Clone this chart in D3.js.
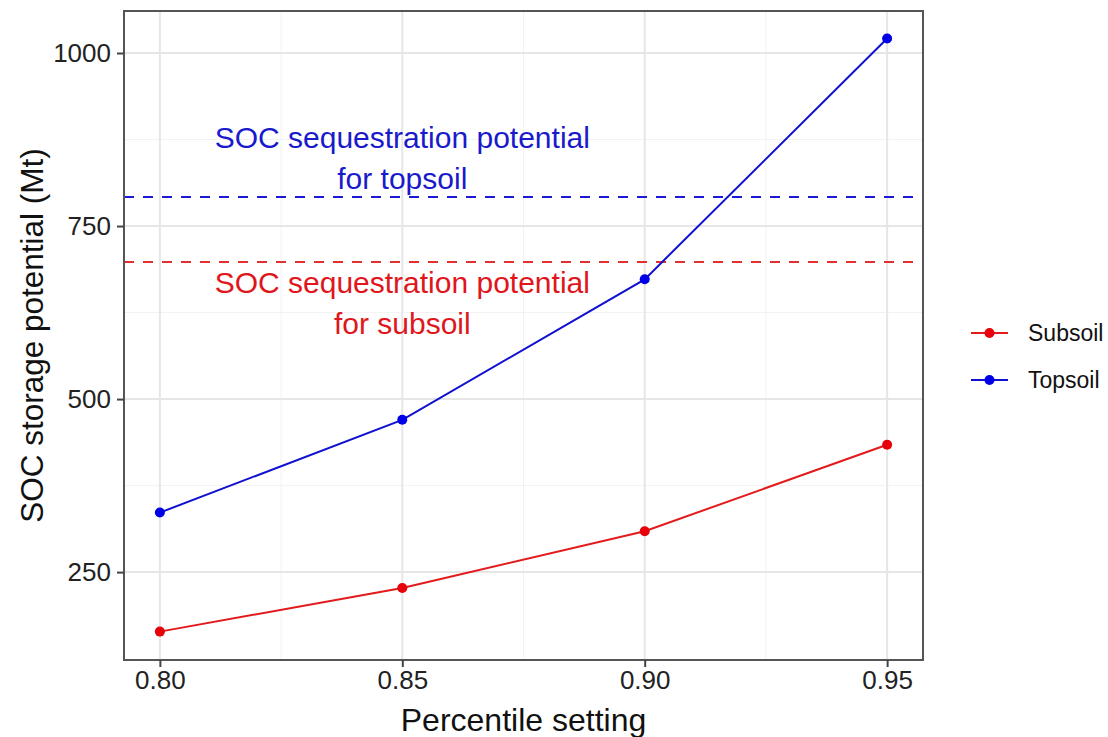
<!DOCTYPE html>
<html>
<head>
<meta charset="utf-8">
<script src="https://cdn.jsdelivr.net/npm/d3@7"></script>
<style>
  body { margin: 0; background: #fff; }
  svg { display: block; font-family: "Liberation Sans", Arial, sans-serif; }
</style>
</head>
<body>
<div id="chart"></div>
<script>
// data
const percentiles = [0.80, 0.85, 0.90, 0.95];
const subsoil = [164, 227, 309, 434];
const topsoil = [336, 470, 673, 1021];
const thresholds = [
  {name: 'Topsoil', value: 792},
  {name: 'Subsoil', value: 698}
];
const xTicks = [0.80, 0.85, 0.90, 0.95];
const yTicks = [250, 500, 750, 1000];
const seriesNames = ['Subsoil', 'Topsoil'];
const seriesColors = {Subsoil: '#e8000b', Topsoil: '#0000e6'};
const lineColors = {Subsoil: '#e31a1c', Topsoil: '#1010d0'};

const width = 1108, height = 737;
const panel = {left: 124, top: 11, right: 923, bottom: 660};

const svg = d3.select('#chart').append('svg')
  .attr('width', width)
  .attr('height', height);

const x = d3.scaleLinear()
  .domain([0.7926, 0.9574])
  .range([panel.left, panel.right]);

const y = d3.scaleLinear()
  .domain([123, 1060.7])
  .range([panel.bottom, panel.top]);

// gridlines (theme_bw style)
const grid = svg.append('g');
const minorX = [0.825, 0.875, 0.925];
const minorY = [375, 625, 875];
grid.selectAll('.minx').data(minorX).enter().append('line')
  .attr('x1', d => x(d)).attr('x2', d => x(d))
  .attr('y1', panel.top).attr('y2', panel.bottom)
  .attr('stroke', '#f2f2f2').attr('stroke-width', 1);
grid.selectAll('.miny').data(minorY).enter().append('line')
  .attr('y1', d => y(d)).attr('y2', d => y(d))
  .attr('x1', panel.left).attr('x2', panel.right)
  .attr('stroke', '#f2f2f2').attr('stroke-width', 1);
grid.selectAll('.majx').data(xTicks).enter().append('line')
  .attr('x1', d => x(d)).attr('x2', d => x(d))
  .attr('y1', panel.top).attr('y2', panel.bottom)
  .attr('stroke', '#e6e6e6').attr('stroke-width', 2);
grid.selectAll('.majy').data(yTicks).enter().append('line')
  .attr('y1', d => y(d)).attr('y2', d => y(d))
  .attr('x1', panel.left).attr('x2', panel.right)
  .attr('stroke', '#e6e6e6').attr('stroke-width', 2);

// threshold lines
svg.selectAll('.hline').data(thresholds).enter().append('line')
  .attr('x1', panel.left).attr('x2', panel.right)
  .attr('y1', d => y(d.value)).attr('y2', d => y(d.value))
  .attr('stroke', d => d.name === 'Topsoil' ? '#1a1ad6' : '#e03030')
  .attr('stroke-width', 2)
  .attr('stroke-dasharray', '10,9');

// annotations
const notes = [
  {lines: ['SOC sequestration potential', 'for topsoil'], color: '#1a1acc', ys: [148, 189]},
  {lines: ['SOC sequestration potential', 'for subsoil'], color: '#e0161c', ys: [293, 334]}
];
notes.forEach(n => {
  n.lines.forEach((t, i) => {
    svg.append('text')
      .attr('x', x(0.85))
      .attr('y', n.ys[i])
      .attr('text-anchor', 'middle')
      .attr('font-size', 30)
      .attr('fill', n.color)
      .text(t);
  });
});

// series
const series = seriesNames.map(name => ({
  name,
  values: percentiles.map((p, i) => ({p, v: name === 'Subsoil' ? subsoil[i] : topsoil[i]}))
}));

const line = d3.line().x(d => x(d.p)).y(d => y(d.v));

svg.selectAll('.series').data(series).enter().append('path')
  .attr('d', d => line(d.values))
  .attr('fill', 'none')
  .attr('stroke', d => lineColors[d.name])
  .attr('stroke-width', 2);

series.forEach(s => {
  svg.selectAll(null).data(s.values).enter().append('circle')
    .attr('cx', d => x(d.p))
    .attr('cy', d => y(d.v))
    .attr('r', 5)
    .attr('fill', seriesColors[s.name]);
});

// panel border
svg.append('rect')
  .attr('x', panel.left).attr('y', panel.top)
  .attr('width', panel.right - panel.left)
  .attr('height', panel.bottom - panel.top)
  .attr('fill', 'none')
  .attr('stroke', '#555')
  .attr('stroke-width', 2);

// axes
const xAxis = svg.append('g')
  .attr('transform', `translate(0,${panel.bottom})`)
  .call(d3.axisBottom(x).tickValues(xTicks).tickFormat(d3.format('.2f')).tickSize(7).tickPadding(4));
const yAxis = svg.append('g')
  .attr('transform', `translate(${panel.left},0)`)
  .call(d3.axisLeft(y).tickValues(yTicks).tickFormat(d3.format('d')).tickSize(7).tickPadding(6));

[xAxis, yAxis].forEach(a => {
  a.select('.domain').remove();
  a.selectAll('.tick line').attr('stroke', '#444').attr('stroke-width', 2);
  a.selectAll('.tick text')
    .attr('font-size', 26)
    .attr('font-family', '"Liberation Sans", Arial, sans-serif')
    .attr('fill', '#222');
});

// axis titles
svg.append('text')
  .attr('x', (panel.left + panel.right) / 2)
  .attr('y', 731)
  .attr('text-anchor', 'middle')
  .attr('font-size', 32)
  .attr('fill', '#111')
  .text('Percentile setting');

svg.append('text')
  .attr('transform', `translate(43,${(panel.top + panel.bottom) / 2}) rotate(-90)`)
  .attr('text-anchor', 'middle')
  .attr('font-size', 31.5)
  .attr('fill', '#111')
  .text('SOC storage potential (Mt)');

// legend
const legend = svg.append('g').attr('transform', 'translate(971,333)');
seriesNames.forEach((name, i) => {
  const g = legend.append('g').attr('transform', `translate(0,${i * 47})`);
  g.append('line')
    .attr('x1', 0).attr('x2', 37)
    .attr('y1', 0).attr('y2', 0)
    .attr('stroke', lineColors[name]).attr('stroke-width', 2);
  g.append('circle')
    .attr('cx', 18.5).attr('cy', 0).attr('r', 5)
    .attr('fill', seriesColors[name]);
  g.append('text')
    .attr('x', 57).attr('y', 8)
    .attr('font-size', 23)
    .attr('fill', '#111')
    .text(name);
});
</script>
</body>
</html>
